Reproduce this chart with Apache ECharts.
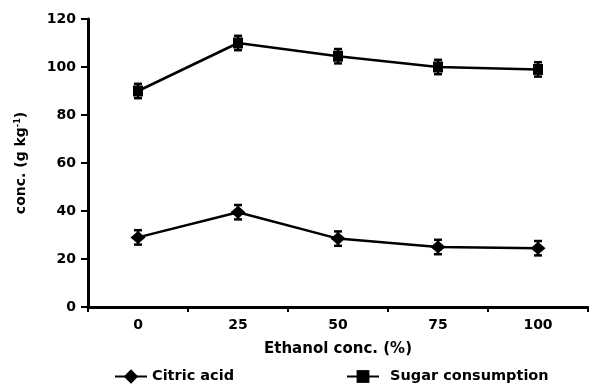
<!DOCTYPE html>
<html><head><meta charset="utf-8">
<script src="https://cdn.jsdelivr.net/npm/echarts@6/dist/echarts.min.js"></script>
<style>html,body{margin:0;padding:0;background:#fff}#c{width:589px;height:384px}</style>
</head><body><div id="c"></div>
<script>
const categories = ['0', '25', '50', '75', '100'];
const citricAcid = [29, 39.5, 28.5, 25, 24.5];
const citricErr = [3, 3, 3, 3, 3];
const sugarConsumption = [90, 110, 104.5, 100, 99];
const sugarErr = [3, 3, 3, 3, 3];
const yTicks = {min: 0, max: 120, interval: 20};

const font = 'DejaVu Sans';
function errSeries(vals, errs) {
  return {
    type: 'custom',
    silent: true,
    z: 5,
    data: vals.map((v, i) => [i, v - errs[i], v + errs[i]]),
    renderItem: function (params, api) {
      const lo = api.coord([api.value(0), api.value(1)]);
      const hi = api.coord([api.value(0), api.value(2)]);
      const w = 4;
      const st = {stroke: '#000', lineWidth: 2.5};
      return {type: 'group', children: [
        {type: 'line', shape: {x1: lo[0], y1: lo[1], x2: hi[0], y2: hi[1]}, style: st},
        {type: 'line', shape: {x1: lo[0]-w, y1: lo[1], x2: lo[0]+w, y2: lo[1]}, style: st},
        {type: 'line', shape: {x1: hi[0]-w, y1: hi[1], x2: hi[0]+w, y2: hi[1]}, style: st}
      ]};
    }
  };
}
const chart = echarts.init(document.getElementById('c'));
chart.setOption({
  animation: false,
  backgroundColor: '#fff',
  textStyle: {fontFamily: font, color: '#000'},
  grid: {left: 88, right: 1, top: 19, bottom: 77, containLabel: false},
  legend: [
    {data: ['Citric acid'], left: 109, top: 364, itemWidth: 32, itemHeight: 18, itemGap: 10,
     textStyle: {fontFamily: font, fontSize: 14.5, fontWeight: 'bold', color: '#000'}},
    {data: ['Sugar consumption'], left: 341, top: 364, itemWidth: 32, itemHeight: 16, itemGap: 10,
     textStyle: {fontFamily: font, fontSize: 14.5, fontWeight: 'bold', color: '#000', padding: [0,0,0,6]}}
  ],
  xAxis: {
    type: 'category', data: categories, boundaryGap: true,
    name: 'Ethanol conc. (%)', nameLocation: 'middle', nameGap: 35,
    nameTextStyle: {fontFamily: font, fontSize: 15, fontWeight: 'bold', color: '#000'},
    axisLine: {lineStyle: {color: '#000', width: 3}},
    axisTick: {show: true, length: 5, lineStyle: {color: '#000', width: 2}, alignWithLabel: false},
    axisLabel: {fontFamily: font, fontSize: 14, fontWeight: 'bold', color: '#000', margin: 11},
    splitLine: {show: false}
  },
  yAxis: {
    type: 'value', min: yTicks.min, max: yTicks.max, interval: yTicks.interval,
    name: 'conc. (g kg{sup|-1})', nameLocation: 'middle', nameGap: 60, nameRotate: 90,
    nameTextStyle: {fontFamily: font, fontSize: 14, fontWeight: 'bold', color: '#000',
      rich: {sup: {fontFamily: font, fontSize: 8, fontWeight: 'bold', color: '#000', verticalAlign: 'top', padding: [0,0,6,0]}}},
    axisLine: {show: true, lineStyle: {color: '#000', width: 3}},
    axisTick: {show: true, length: 7, lineStyle: {color: '#000', width: 2}},
    axisLabel: {fontFamily: font, fontSize: 14, fontWeight: 'bold', color: '#000', margin: 12},
    splitLine: {show: false}
  },
  series: [
    {name: 'Citric acid', type: 'line', data: citricAcid, symbol: 'diamond', symbolSize: [15, 13],
     itemStyle: {color: '#000'}, lineStyle: {color: '#000', width: 2.5}, z: 10},
    {name: 'Sugar consumption', type: 'line', data: sugarConsumption, symbol: 'rect', symbolSize: [10, 11],
     itemStyle: {color: '#000'}, lineStyle: {color: '#000', width: 2.5}, z: 10},
    errSeries(citricAcid, citricErr),
    errSeries(sugarConsumption, sugarErr)
  ]
});
</script></body></html>
